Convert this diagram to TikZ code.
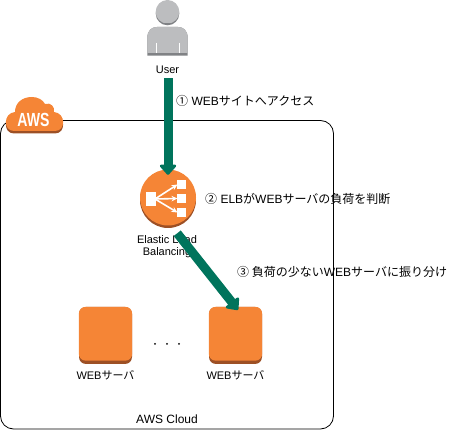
\documentclass[tikz,border=0pt]{standalone}
\usepackage{fontspec}
\setmainfont{Liberation Sans}
\newfontfamily\jp{Noto Sans CJK JP}
\usetikzlibrary{calc,arrows.meta}
\definecolor{awsorange}{HTML}{F58536}
\definecolor{awsdark}{HTML}{9D5025}
\definecolor{flowgreen}{HTML}{00745C}
\definecolor{usergray}{HTML}{BCBDBF}
\definecolor{userdark}{HTML}{808285}

\begin{document}
\begin{tikzpicture}[
    x=1pt, y=-1pt,
    >={Triangle[round,length=11pt,width=19pt]},
    flow/.style={line width=9pt, ->, draw=flowgreen},
    label text/.style={font=\fontsize{11}{12.5}\selectfont, align=center, inner sep=0pt},
    step text/.style={font=\fontsize{12}{14}\selectfont, anchor=west, inner sep=0pt},
    server/.style={rectangle, rounded corners=7pt, fill=awsdark, minimum width=53pt, minimum height=57pt, inner sep=0pt},
    white arrow/.style={white, line width=1.6pt, -{Stealth[length=6pt,width=5.5pt]}}
  ]
  \useasboundingbox (0,0) rectangle (456,430);

  % AWS Cloud
  \draw[black, line width=0.8pt, rounded corners=13pt] (0.5,120.5) rectangle (333.5,429);
  \node[step text, anchor=center] (cloudlabel) at (167,419) {AWS Cloud};

  \foreach \dy/\col in {2.5/awsdark,0/awsorange} {
    \fill[\col, yshift=-\dy pt] (14,131) .. controls (3,131) and (3,113) .. (15,112)
      .. controls (15,103) and (22,97) .. (32,97)
      .. controls (38,97) and (43,100) .. (45,104)
      .. controls (51,102) and (55,107) .. (54,112)
      .. controls (66,113) and (66,131) .. (55,131) -- cycle;
  }
  \node[font=\bfseries\fontsize{19}{19}\selectfont, white, xscale=0.74, inner sep=0pt] (awslabel) at (33.5,120) {AWS};

  % User
  \fill[userdark] (167.5,13.5) circle (11.8pt);
  \begin{scope}
    \clip (150,-1) rectangle (185,23);
    \fill[usergray] (167.5,11.8) circle (11.8pt);
  \end{scope}
  \fill[userdark] (147.3,53) -- (147.3,38) .. controls (147.3,30) and (152,27) .. (157,27) -- (178,27)
    .. controls (183,27) and (187.7,30) .. (187.7,38) -- (187.7,55.7) -- (147.3,55.7) -- cycle;
  \fill[usergray] (147.3,53) -- (147.3,38) .. controls (147.3,30) and (152,27) .. (157,27) -- (178,27)
    .. controls (183,27) and (187.7,30) .. (187.7,38) -- (187.7,53) -- cycle;
  \foreach \xs in {156,179.5} {
    \draw[white, line width=0.7pt] (\xs,43) -- (\xs,53);
  }
  \node[label text] (userlabel) at (167.5,70) {User};

  % ELB
  \node[circle, fill=awsdark, minimum size=56pt, inner sep=0pt] (elb) at (168,200) {};
  \fill[awsorange] (168,197.5) circle (28pt);
  \fill[white] (146,192) rectangle (156,206);
  \foreach \ys in {184.5,198.5,212.5} {
    \fill[white] (177,\ys-4.5) rectangle (185.5,\ys+4.5);
    \draw[white arrow] (155,199) -- (177.5,\ys);
  }
  \node[label text] (elblabel) at (167,247) {Elastic Load\\[-0.5pt]Balancing};

  % WEB servers
  \foreach \name/\xc in {web1/105.5,web2/235.5} {
    \node[server] (\name) at (\xc,335.5) {};
    \fill[awsorange, rounded corners=7pt] (\name.north west) rectangle ($(\name.south east)+(0,-3.5)$);
    \node[label text] (\name label) at (\xc,375) {WEB{\jp サーバ}};
  }
  \foreach \xd in {155,167,179} {
    \fill (\xd,344) circle (1pt);
  }

  % steps
  \node[step text] (step1) at (176,100.5) {{\jp ①} WEB{\jp サイトへアクセス}};
  \node[step text] (step2) at (205,199) {{\jp ②} ELB{\jp が}WEB{\jp サーバの負荷を判断}};
  \node[step text] (step3) at (237,271.5) {{\jp ③ 負荷の少ない}WEB{\jp サーバに振り分け}};

  \draw[flow, shorten <=4pt, shorten >=-3pt] (userlabel.south -| elb.north) -- (elb.north);
  \draw[flow, shorten <=7pt, shorten >=-4pt] (elb.-80) -- (web2.north);

\end{tikzpicture}
\end{document}
